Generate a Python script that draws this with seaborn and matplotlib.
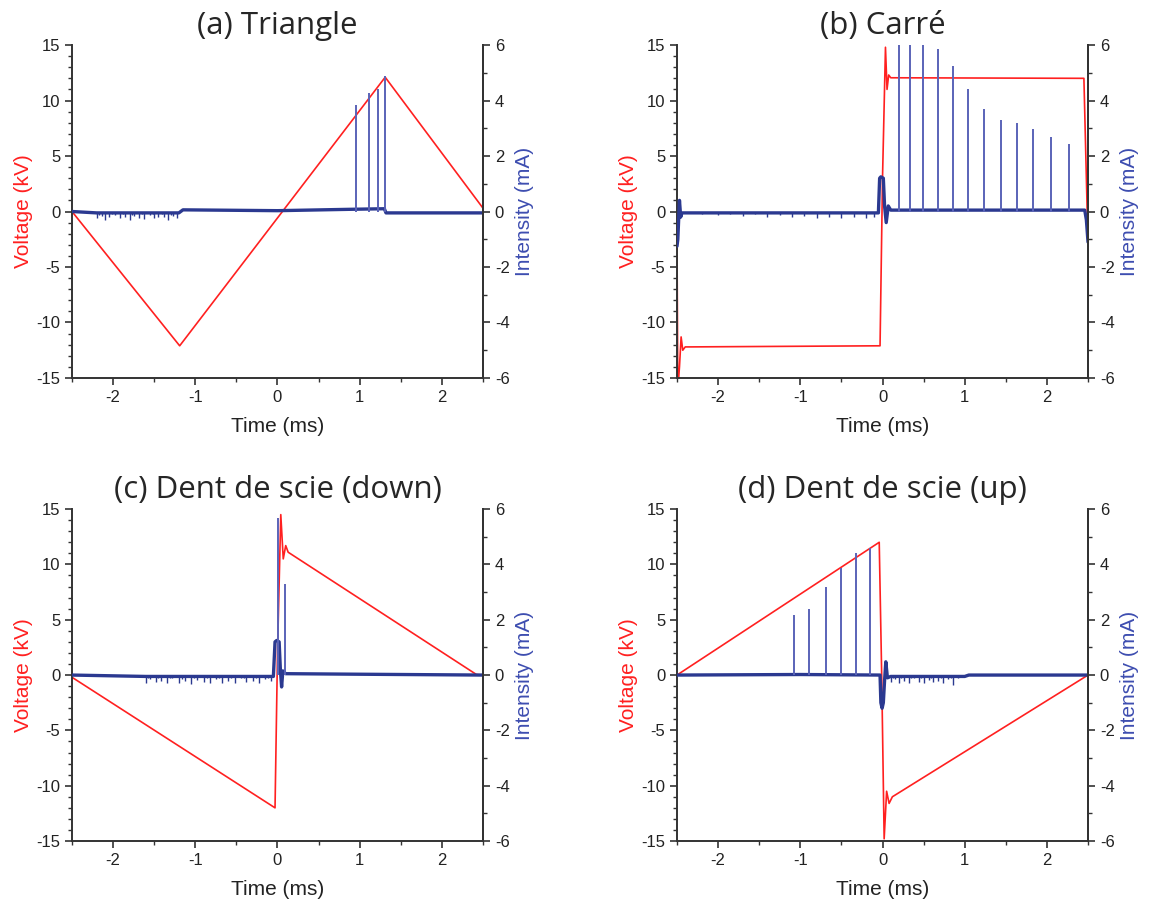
import matplotlib
matplotlib.use("Agg")
import matplotlib.pyplot as plt
import seaborn as sns
from matplotlib.ticker import MultipleLocator

# ---- data (time in ms, voltage in kV, current in mA) ----

# (a) Triangle
tri_v_t = [-2.5, -1.19, 1.31, 2.5]
tri_v = [0.0, -12.1, 12.1, 0.3]
tri_i_t = [-2.5, -2.2, -1.2, -1.15, 0.0, 0.9, 1.3, 1.32, 2.5]
tri_i = [0.0, -0.05, -0.05, 0.06, 0.03, 0.08, 0.1, -0.05, -0.05]
tri_nz_t = [-2.2, -2.17, -2.13, -2.1, -2.05, -2.01, -1.98, -1.92, -1.88, -1.85, -1.8,
            -1.77, -1.74, -1.68, -1.65, -1.62, -1.55, -1.52, -1.5, -1.45, -1.41, -1.38,
            -1.33, -1.3, -1.27, -1.22]
tri_nz_i = [-0.25, -0.12, -0.15, -0.3, -0.2, -0.1, -0.12, -0.25, -0.1, -0.18, -0.3,
            -0.12, -0.15, -0.22, -0.1, -0.28, -0.14, -0.1, -0.25, -0.2, -0.1, -0.18,
            -0.3, -0.12, -0.15, -0.22]
tri_spk_t = [0.955, 1.108, 1.217, 1.31]
tri_spk_i = [3.84, 4.26, 4.40, 4.88]

# (b) Carré
sq_v_t = [-2.5, -2.49, -2.47, -2.45, -2.43, -2.40, -2.35, -0.03, 0.0, 0.036, 0.055,
          0.075, 0.1, 2.45, 2.48, 2.5]
sq_v = [-3.0, -16.0, -14.0, -11.3, -12.5, -12.2, -12.2, -12.1, 3.0, 14.8, 11.0,
        12.3, 12.05, 12.0, 3.0, -3.0]
sq_i_t = [-2.5, -2.49, -2.47, -2.455, -2.44, -0.05, -0.035, -0.02, 0.01, 0.025, 0.045,
          0.07, 0.1, 2.46, 2.48, 2.5]
sq_i = [-1.25, -1.0, 0.4, -0.2, -0.05, -0.05, 1.2, 1.25, 1.2, 0.2, -0.4,
        0.2, 0.05, 0.05, -0.3, -1.1]
sq_nz_t = [-2.2, -2.0, -1.85, -1.7, -1.55, -1.4, -1.25, -1.1, -0.95, -0.8, -0.65,
           -0.5, -0.35, -0.2, -0.1]
sq_nz_i = [-0.1, -0.12, -0.08, -0.15, -0.1, -0.18, -0.12, -0.2, -0.15, -0.22, -0.18,
           -0.25, -0.2, -0.22, -0.18]
sq_spk_t = [0.198, 0.331, 0.498, 0.676, 0.853, 1.044, 1.238, 1.436, 1.638, 1.836, 2.055, 2.266]
sq_spk_i = [6.5, 6.5, 6.5, 5.85, 5.24, 4.40, 3.68, 3.30, 3.20, 2.96, 2.70, 2.43]

# (c) Dent de scie (down)
dn_v_t = [-2.5, -0.03, 0.0, 0.04, 0.07, 0.1, 0.13, 2.42, 2.5]
dn_v = [-0.2, -12.0, 2.0, 14.5, 10.5, 11.7, 11.1, 0.05, 0.0]
dn_i_t = [-2.5, -1.6, -0.05, -0.03, -0.01, 0.02, 0.035, 0.05, 0.065, 0.1, 1.0, 2.5]
dn_i = [0.0, -0.05, -0.05, 1.2, 1.25, 1.2, 0.2, -0.43, 0.15, 0.05, 0.03, 0.0]
dn_nz_t = [-1.6, -1.57, -1.55, -1.48, -1.45, -1.42, -1.35, -1.31, -1.28, -1.2, -1.16,
           -1.12, -1.05, -1.01, -0.98, -0.9, -0.86, -0.82, -0.75, -0.71, -0.68, -0.6,
           -0.56, -0.52, -0.45, -0.41, -0.38, -0.3, -0.26, -0.22, -0.15, -0.11, -0.08]
dn_nz_i = [-0.3, -0.1, -0.15, -0.25, -0.12, -0.2, -0.3, -0.1, -0.12, -0.28, -0.14,
           -0.2, -0.32, -0.1, -0.18, -0.25, -0.12, -0.3, -0.15, -0.1, -0.28, -0.2,
           -0.12, -0.3, -0.12, -0.1, -0.25, -0.2, -0.12, -0.28, -0.15, -0.1, -0.22]
dn_spk_t = [0.007, 0.089]
dn_spk_i = [5.66, 3.29]

# (d) Dent de scie (up)
up_v_t = [-2.5, -0.04, -0.01, 0.02, 0.05, 0.08, 0.12, 2.5]
up_v = [0.0, 12.0, 0.0, -14.8, -10.5, -11.6, -11.0, 0.0]
up_i_t = [-2.5, -1.0, -0.03, -0.02, -0.005, 0.01, 0.025, 0.04, 0.06, 0.1, 1.0, 1.05, 2.5]
up_i = [0.0, 0.02, 0.0, -1.0, -1.2, -1.0, -0.2, 0.48, -0.1, -0.05, -0.05, 0.0, 0.0]
up_nz_t = [0.1, 0.13, 0.15, 0.2, 0.23, 0.26, 0.32, 0.35, 0.38, 0.44, 0.47, 0.5, 0.56,
           0.59, 0.62, 0.68, 0.71, 0.74, 0.8, 0.83, 0.86, 0.92]
up_nz_i = [-0.25, -0.1, -0.15, -0.3, -0.12, -0.2, -0.28, -0.1, -0.12, -0.25, -0.1,
           -0.3, -0.18, -0.1, -0.25, -0.2, -0.12, -0.3, -0.15, -0.1, -0.35, -0.12]
up_spk_t = [-1.08, -0.894, -0.692, -0.501, -0.324, -0.158]
up_spk_i = [2.17, 2.39, 3.17, 3.86, 4.40, 4.61]

titles = ["(a) Triangle", "(b) Carré", "(c) Dent de scie (down)", "(d) Dent de scie (up)"]

panels = [
    (tri_v_t, tri_v, tri_i_t, tri_i, tri_nz_t, tri_nz_i, tri_spk_t, tri_spk_i),
    (sq_v_t, sq_v, sq_i_t, sq_i, sq_nz_t, sq_nz_i, sq_spk_t, sq_spk_i),
    (dn_v_t, dn_v, dn_i_t, dn_i, dn_nz_t, dn_nz_i, dn_spk_t, dn_spk_i),
    (up_v_t, up_v, up_i_t, up_i, up_nz_t, up_nz_i, up_spk_t, up_spk_i),
]

# ---- style ----
sns.set_style("ticks")
plt.rcParams["font.family"] = ["Liberation Sans", "DejaVu Sans"]
plt.rcParams["axes.unicode_minus"] = False

red = "#ff2020"
navy = "#2b3990"
spike_blue = "#5a63b8"
label_blue = "#3d4db0"
spine_col = "#333333"

fig = plt.figure(figsize=(11.5, 9.06), dpi=100)

# axes boxes in figure fraction: left, bottom, width, height
boxes = [
    (0.0626, 0.5828, 0.3574, 0.3675),
    (0.5887, 0.5828, 0.3574, 0.3675),
    (0.0626, 0.0717, 0.3574, 0.3664),
    (0.5887, 0.0717, 0.3574, 0.3664),
]

for box, title, (vt, v, it, i, nt, ni, st, si) in zip(boxes, titles, panels):
    ax = fig.add_axes(box)
    ax2 = ax.twinx()

    sns.lineplot(x=vt, y=v, ax=ax, color=red, lw=1.2, sort=False, estimator=None)
    ax2.vlines(nt, 0, ni, color=navy, lw=1.0)
    sns.lineplot(x=it, y=i, ax=ax2, color=navy, lw=2.4, sort=False, estimator=None)
    ax2.vlines(st, 0, si, color=spike_blue, lw=1.4)

    ax.set_xlim(-2.5, 2.5)
    ax.set_ylim(-15, 15)
    ax2.set_ylim(-6, 6)

    ax.xaxis.set_major_locator(MultipleLocator(1))
    ax.xaxis.set_minor_locator(MultipleLocator(0.5))
    ax.yaxis.set_major_locator(MultipleLocator(5))
    ax.yaxis.set_minor_locator(MultipleLocator(1))
    ax2.yaxis.set_major_locator(MultipleLocator(2))
    ax2.yaxis.set_minor_locator(MultipleLocator(1))

    for a in (ax, ax2):
        a.spines["top"].set_visible(False)
        for s in a.spines.values():
            s.set_color(spine_col)
            s.set_linewidth(1.4)
        a.tick_params(which="major", direction="out", length=5, width=1.2,
                      colors=spine_col, labelsize=12, labelcolor="#222222")
        a.tick_params(which="minor", direction="out", length=3, width=1.0, colors=spine_col)
    ax2.spines["left"].set_visible(False)
    ax2.spines["bottom"].set_visible(False)

    ax.set_xlabel("Time (ms)", fontsize=15, color="#222222", labelpad=9)
    ax.set_ylabel("Voltage (kV)", fontsize=15, color=red, labelpad=2)
    ax2.set_ylabel("Intensity (mA)", fontsize=15, color=label_blue, labelpad=4)
    ax.set_title(title, fontsize=22.5, family=["Open Sans", "DejaVu Sans"], pad=8)

fig.savefig("out.png", dpi=100)
